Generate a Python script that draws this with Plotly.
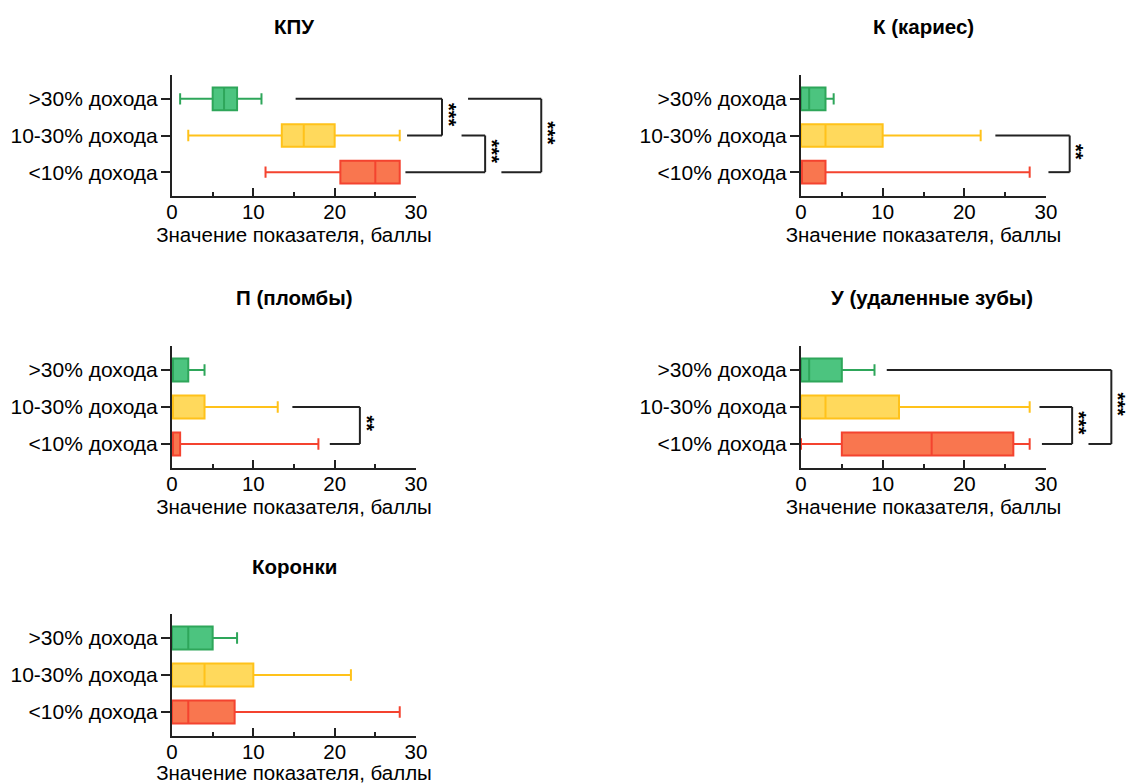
import plotly.graph_objects as go

W, H = 1126, 784

# ---------------- data ----------------
groups = [">30% дохода", "10-30% дохода", "<10% дохода"]
cat_order = ["<10% дохода", "10-30% дохода", ">30% дохода"]  # bottom -> top
panel_titles = ["КПУ", "К (кариес)", "П (пломбы)", "У (удаленные зубы)", "Коронки"]
x_ticks = [0, 10, 20, 30]
x_minor = [5, 15, 25]
x_title = "Значение показателя, баллы"

# values listed in the order of `groups`
kpu_low = [1, 2, 11.5]
kpu_q1 = [5, 13.5, 20.7]
kpu_med = [6.4, 16.2, 25]
kpu_q3 = [8, 20, 28]
kpu_high = [11, 28, 28]

k_low = [0, 0, 0]
k_q1 = [0, 0, 0]
k_med = [1, 3, 0]
k_q3 = [3, 10, 3]
k_high = [4, 22, 28]

p_low = [0, 0, 0]
p_q1 = [0, 0, 0]
p_med = [0, 0, 0]
p_q3 = [2, 4, 1]
p_high = [4, 13, 18]

u_low = [0, 0, 0]
u_q1 = [0, 0, 5]
u_med = [1, 3, 16]
u_q3 = [5, 12, 26]
u_high = [9, 28, 28]

cr_low = [0, 0, 0]
cr_q1 = [0, 0, 0]
cr_med = [2, 4, 2]
cr_q3 = [5, 10, 7.7]
cr_high = [8, 22, 28]

# significance: (group a, group b, label)
kpu_sig = [(">30% дохода", "10-30% дохода", "***"),
           ("10-30% дохода", "<10% дохода", "***"),
           (">30% дохода", "<10% дохода", "***")]
k_sig = [("10-30% дохода", "<10% дохода", "**")]
p_sig = [("10-30% дохода", "<10% дохода", "**")]
u_sig = [("10-30% дохода", "<10% дохода", "***"),
         (">30% дохода", "<10% дохода", "***")]
cr_sig = []

panels_data = [
    (kpu_low, kpu_q1, kpu_med, kpu_q3, kpu_high, kpu_sig),
    (k_low, k_q1, k_med, k_q3, k_high, k_sig),
    (p_low, p_q1, p_med, p_q3, p_high, p_sig),
    (u_low, u_q1, u_med, u_q3, u_high, u_sig),
    (cr_low, cr_q1, cr_med, cr_q3, cr_high, cr_sig),
]

# ---------------- layout / style ----------------
XMAX = 30
FONT = "Liberation Sans, Arial, Helvetica, sans-serif"
AX = "#222222"
fills = ["#4CC47F", "#FFD95C", "#F9764F"]
lines = ["#2EA65A", "#FFC21A", "#F4432F"]

# panel boxes in pixels: (left, right, top, bottom)
panel_px = [
    (172, 416, 75, 196),
    (801, 1046, 75, 196),
    (172, 416, 346, 468),
    (801, 1046, 346, 468),
    (172, 416, 614, 736),
]
title_px = [(294, 27), (923, 27), (294, 298), (932, 298), (294, 566)]

# bracket geometry (data units): arm start a, arm start b, vertical level
bracket_geom = [
    [(15.2, 28.9, 33.2), (35.6, 28.7, 38.5), (36.4, 40.5, 45.4)],
    [(23.8, 30.3, 32.9)],
    [(14.8, 19.4, 23.1)],
    [(29.2, 29.5, 33.2), (10.5, 35.2, 38.0)],
    [],
]
STAR_DX = 0.85
STAR_DY = 0.06

fig = go.Figure()
shapes = []
annotations = []

for i, (low, q1, med, q3, high, sig) in enumerate(panels_data):
    n = i + 1
    xa = "x" if n == 1 else f"x{n}"
    ya = "y" if n == 1 else f"y{n}"
    for j, g in enumerate(groups):
        fig.add_trace(go.Box(
            y=[g], q1=[q1[j]], median=[med[j]], q3=[q3[j]],
            lowerfence=[low[j]], upperfence=[high[j]],
            orientation="h", boxpoints=False,
            fillcolor=fills[j], line=dict(color=lines[j], width=2),
            width=0.62, whiskerwidth=0.5,
            xaxis=xa, yaxis=ya, showlegend=False, hoverinfo="skip",
        ))
    l, r, t, b = panel_px[i]
    fig.layout[f"xaxis{'' if n == 1 else n}"] = dict(
        domain=[l / W, r / W], anchor=ya, range=[0, XMAX], automargin=False,
        showline=True, linecolor=AX, linewidth=2,
        ticks="inside", ticklen=8, tickwidth=2, tickcolor=AX,
        tickvals=x_ticks, ticktext=[str(v) for v in x_ticks],
        ticklabelstandoff=-4,
        minor=dict(tickvals=x_minor, ticks="inside", ticklen=4, tickwidth=2, tickcolor=AX),
        showgrid=False, zeroline=False, fixedrange=True,
        tickfont=dict(family=FONT, size=20.5, color="#000"),
        title=dict(text=x_title, font=dict(family=FONT, size=20.5, color="#000"), standoff=6),
    )
    fig.layout[f"yaxis{'' if n == 1 else n}"] = dict(
        domain=[1 - b / H, 1 - t / H], anchor=xa, automargin=False,
        type="category", categoryorder="array", categoryarray=cat_order,
        range=[-0.65, 2.65],
        showline=True, linecolor=AX, linewidth=2,
        ticks="outside", ticklen=9, tickwidth=2, tickcolor=AX,
        showgrid=False, zeroline=False, fixedrange=True,
        tickfont=dict(family=FONT, size=21, color="#000"),
        ticklabelstandoff=-1,
    )
    tx, ty = title_px[i]
    annotations.append(dict(
        text=f"<b>{panel_titles[i]}</b>", x=tx / W, y=1 - ty / H,
        xref="paper", yref="paper", showarrow=False,
        xanchor="center", yanchor="middle",
        font=dict(family=FONT, size=20.5, color="#000"),
    ))
    for (ga, gb, label), (sa, sb, lev) in zip(sig, bracket_geom[i]):
        ia, ib = cat_order.index(ga), cat_order.index(gb)
        xr = f"{xa} domain"
        for (yy, s) in ((ia, sa), (ib, sb)):
            shapes.append(dict(type="line", xref=xr, yref=ya,
                               x0=s / XMAX, x1=lev / XMAX, y0=yy, y1=yy,
                               line=dict(color=AX, width=2)))
        shapes.append(dict(type="line", xref=xr, yref=ya,
                           x0=lev / XMAX, x1=lev / XMAX, y0=ia, y1=ib,
                           line=dict(color=AX, width=2)))
        annotations.append(dict(
            text=f"<b>{label}</b>", x=(lev + STAR_DX) / XMAX,
            y=(ia + ib) / 2 + STAR_DY,
            xref=xr, yref=ya, showarrow=False, textangle=90,
            xanchor="center", yanchor="middle",
            font=dict(family=FONT, size=20, color="#000"),
        ))

fig.update_layout(
    width=W, height=H,
    margin=dict(l=0, r=0, t=0, b=0, autoexpand=False),
    paper_bgcolor="white", plot_bgcolor="white",
    shapes=shapes, annotations=annotations,
    boxmode="overlay",
)

fig.write_html("out.html", config={"displayModeBar": False},
               post_script="document.body.style.margin='0px';")
